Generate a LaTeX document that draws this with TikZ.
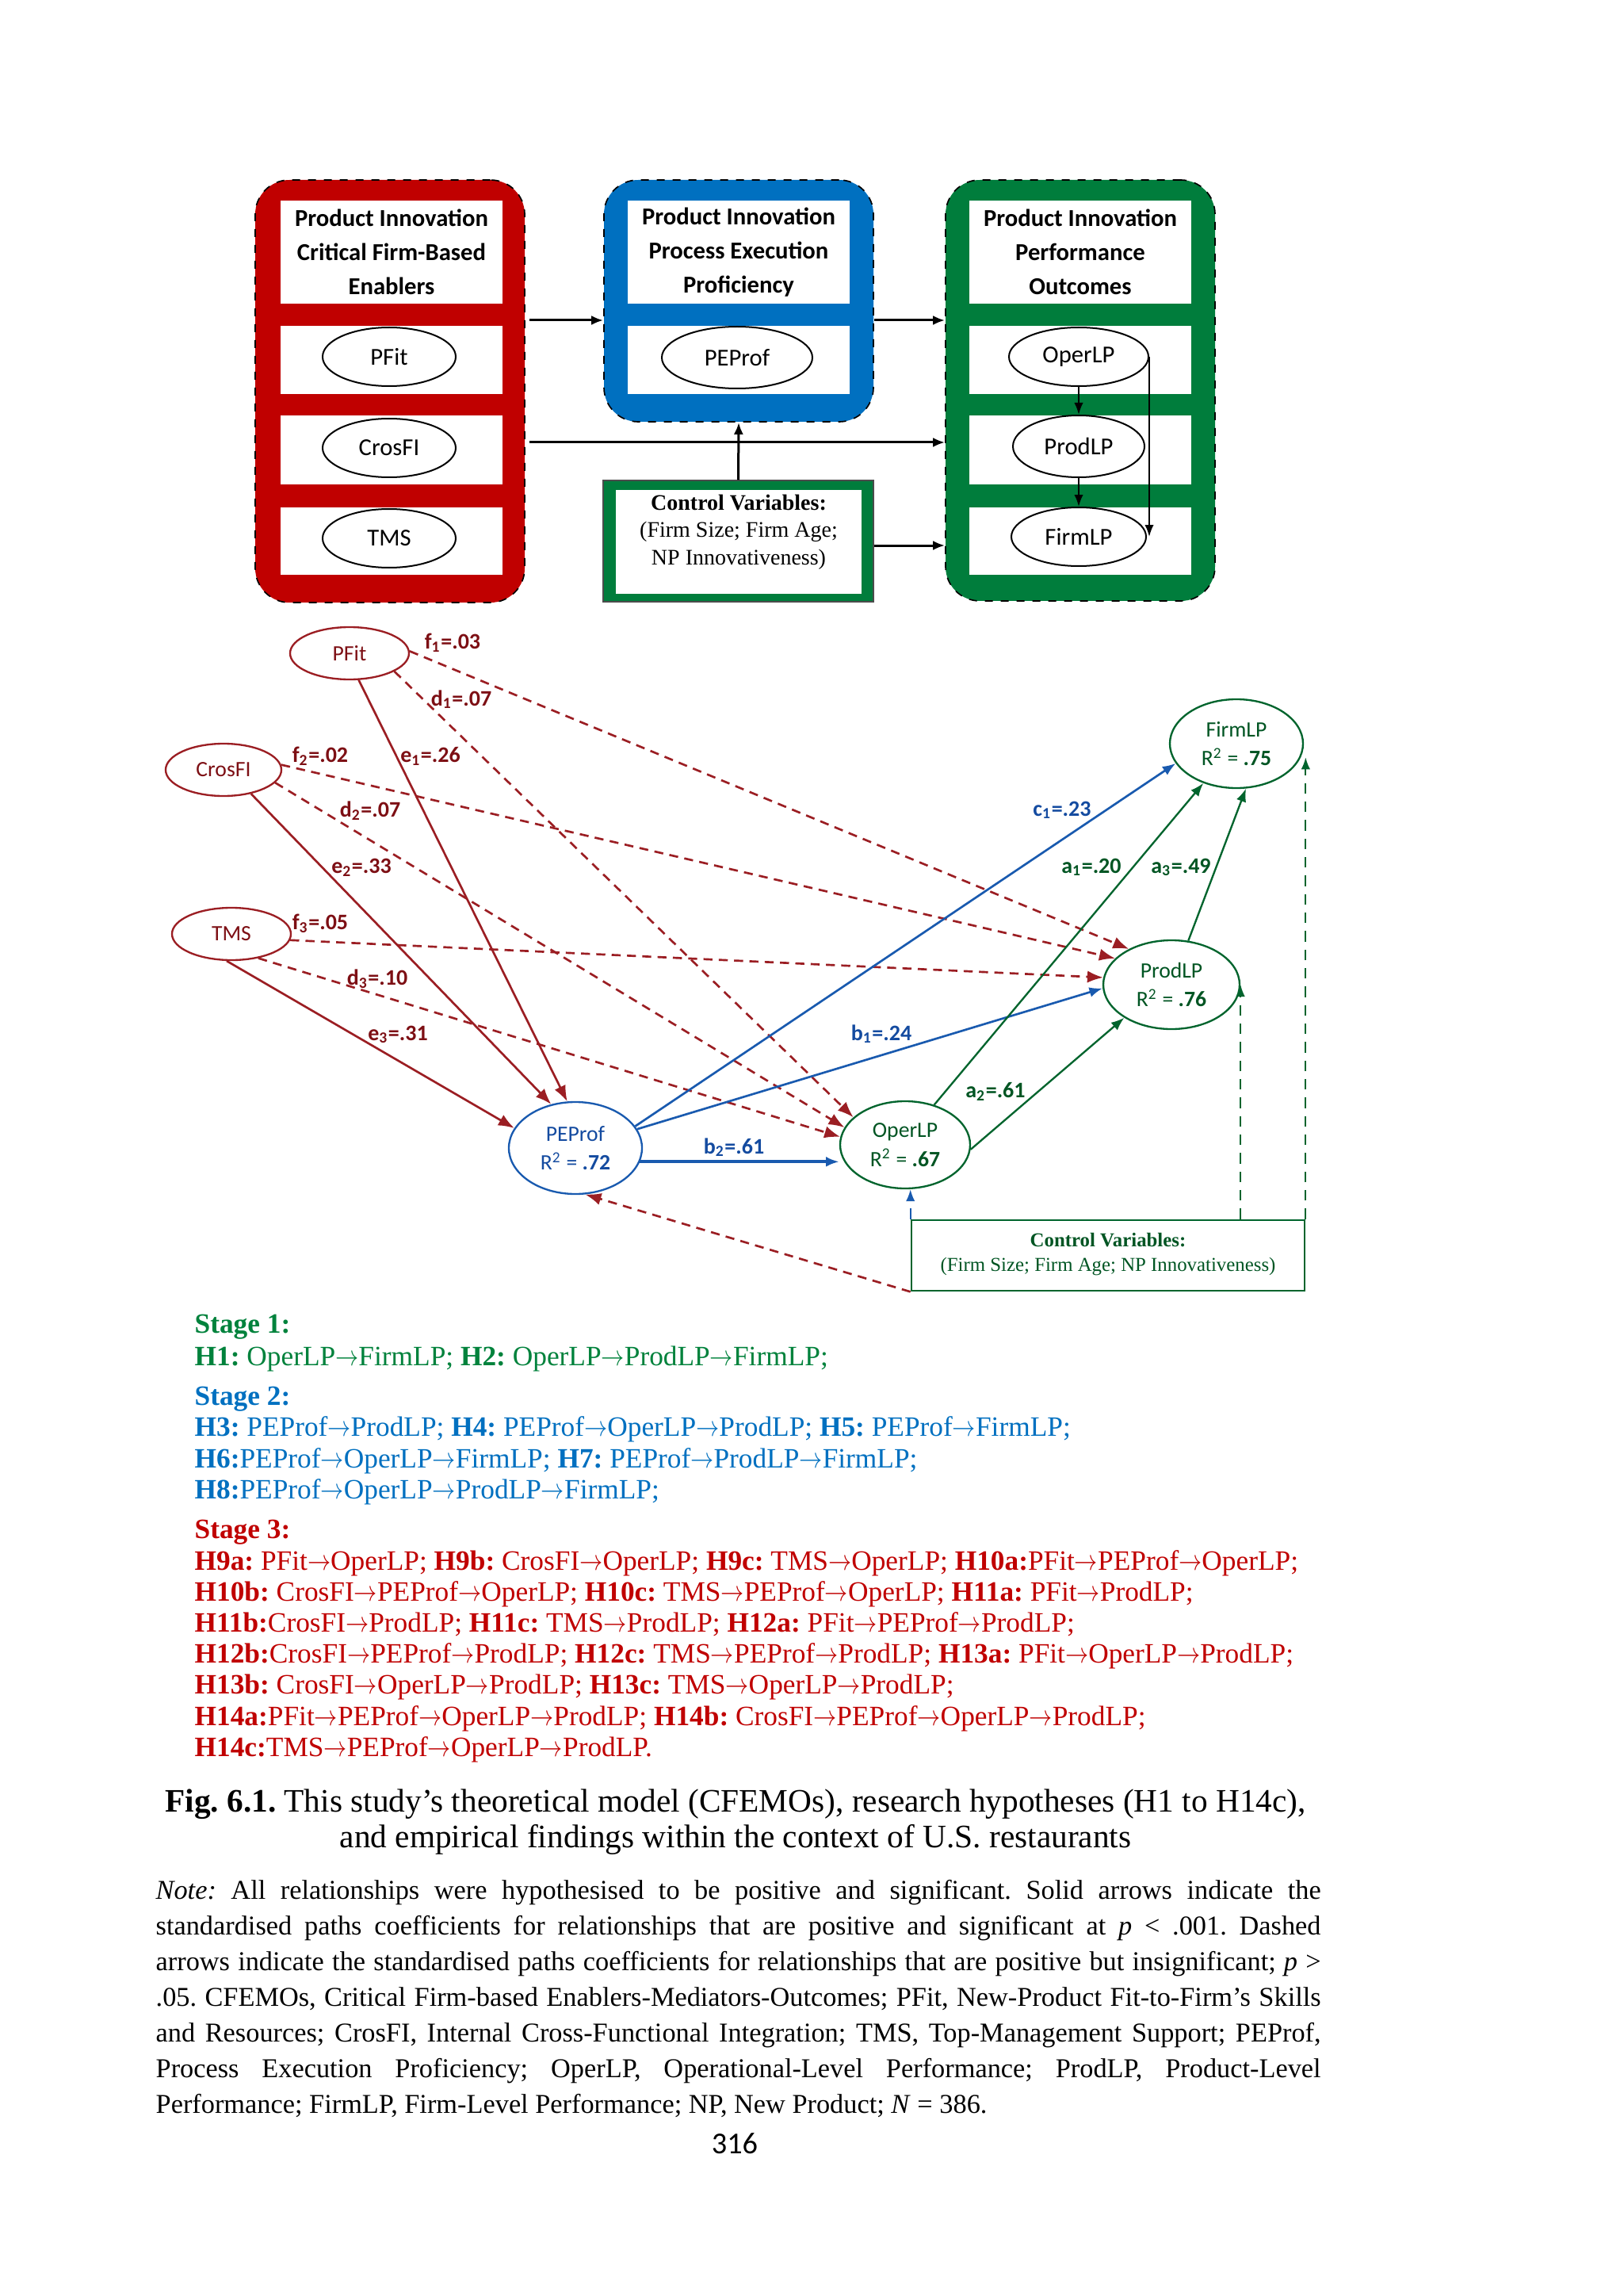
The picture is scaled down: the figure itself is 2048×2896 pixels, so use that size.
\documentclass[tikz,border=0pt]{standalone}
\usepackage{fontspec}
\usepackage{graphicx}
\setmainfont{Liberation Serif}
\newfontfamily\carl{Carlito}
\usetikzlibrary{arrows.meta,shapes.geometric,calc}
\newcommand{\myarr}{\scalebox{0.8}[1]{$\rightarrow$}}
\definecolor{boxred}{RGB}{192,0,0}
\definecolor{boxblue}{RGB}{0,112,192}
\definecolor{boxgreen}{RGB}{0,125,60}
\definecolor{lred}{RGB}{155,30,35}
\definecolor{tred}{RGB}{125,15,20}
\definecolor{lblue}{RGB}{25,90,175}
\definecolor{tblue}{RGB}{20,75,160}
\definecolor{lgreen}{RGB}{0,100,45}
\definecolor{tgreen}{RGB}{0,85,35}
\definecolor{hgreen}{RGB}{0,130,60}
\definecolor{hblue}{RGB}{0,112,192}
\definecolor{hred}{RGB}{192,0,0}
\begin{document}
\frenchspacing
\begin{tikzpicture}[x=0.3pt,y=-0.3pt,
  cbox/.style={rectangle, rounded corners=13pt, draw=black, dashed, line width=0.5pt, inner sep=0pt, minimum width=102pt},
  wbox/.style={rectangle, fill=white, inner sep=0pt, minimum width=84pt},
  titletxt/.style={font=\carl\bfseries\fontsize{9.2}{12.9}\selectfont, align=center, inner sep=0pt},
  topell/.style={ellipse, draw=black, line width=0.6pt, fill=white, inner sep=0pt, font=\carl\fontsize{9.2}{10}\selectfont},
  toparrow/.style={line width=0.9pt, -{Latex[length=4.5pt,width=3.6pt]}},
  inarrow/.style={line width=0.6pt, -{Latex[length=4.5pt,width=3.4pt]}},
  lell/.style={ellipse, line width=0.7pt, inner sep=0pt, align=center, font=\carl\fontsize{8.3}{11}\selectfont},
  rsol/.style={draw=lred, line width=0.8pt, -{Latex[length=6pt,width=4.6pt]}, lred},
  rdsh/.style={rsol, dash pattern=on 3.4pt off 2.4pt},
  bsol/.style={draw=lblue, line width=0.8pt, -{Latex[length=5pt,width=3.8pt]}, lblue},
  gsol/.style={draw=lgreen, line width=0.7pt, -{Latex[length=5pt,width=3.8pt]}, lgreen},
  gdsh/.style={draw=lgreen, line width=0.6pt, dash pattern=on 4pt off 3pt, -{Latex[length=4.5pt,width=3.4pt]}, lgreen},
  bdsh/.style={draw=lblue, line width=0.6pt, dash pattern=on 4pt off 3pt, -{Latex[length=4.5pt,width=3.4pt]}, lblue},
  lbl/.style={font=\carl\bfseries\fontsize{8.4}{9}\selectfont, inner sep=0pt},
  hyp/.style={anchor=base west, inner sep=0pt, font=\fontsize{10.6}{12}\selectfont},
  note/.style={anchor=base west, inner sep=0pt, font=\fontsize{10.3}{12}\selectfont},
]
\fill[white] (0,0) rectangle (2048,2896);
\useasboundingbox (0,0) rectangle (2048,2896);

% ---------------- top framework ----------------
\node[cbox, fill=boxred, minimum height=159.9pt] (redbox) at (492,493.5) {};
\node[cbox, fill=boxblue, minimum height=91.5pt] (bluebox) at (932,379.5) {};
\node[cbox, fill=boxgreen, minimum height=159.3pt] (greenbox) at (1363,492.5) {};

% white panels
\foreach \cx/\nm in {494/r,932/b,1363/g}{
  \node[wbox, minimum height=39pt] (\nm title) at (\cx,318) {};
  \node[wbox, minimum height=25.8pt] (\nm rowA) at (\cx,454) {};
}
\foreach \cx/\nm in {494/r,1363/g}{
  \node[wbox, minimum height=26.1pt] (\nm rowB) at (\cx,567.5) {};
  \node[wbox, minimum height=25.5pt] (\nm rowC) at (\cx,682.5) {};
}

\node[titletxt] (rtitletext) at (494,318) {Product Innovation\\Critical Firm-Based\\Enablers};
\node[titletxt] (btitletext) at (932,318) {Product Innovation\\Process Execution\\Proficiency};
\node[titletxt] (gtitletext) at (1363,318) {Product Innovation\\Performance\\Outcomes};

\node[topell, minimum width=50.4pt, minimum height=22.2pt] (PFitT) at (491,450) {PFit};
\node[topell, minimum width=50.4pt, minimum height=22.2pt] (CrosFIT) at (491,565) {CrosFI};
\node[topell, minimum width=50.4pt, minimum height=22.2pt] (TMST) at (491,679) {TMS};
\node[topell, minimum width=57pt, minimum height=23.4pt] (PEProfT) at (930,451) {PEProf};
\node[topell, minimum width=52.8pt, minimum height=22.2pt] (OperLPT) at (1361,450) {OperLP};
\node[topell, minimum width=49.8pt, minimum height=23.4pt] (ProdLPT) at (1361,563) {ProdLP};
\node[topell, minimum width=51pt, minimum height=22.2pt] (FirmLPT) at (1361,677) {FirmLP};

% control box (top)
\node[rectangle, fill=boxgreen, draw=black!70, line width=0.4pt, minimum width=102.3pt, minimum height=45.9pt, inner sep=0pt] (ctrlT) at (931.5,682.5) {};
\node[rectangle, fill=white, minimum width=93pt, minimum height=39.3pt, inner sep=0pt] (ctrlTin) at (932,683.5) {};
\node[align=center, inner sep=0pt, font=\fontsize{8.4}{10.3}\selectfont] (ctrlTtext) at (932,671) {\textbf{Control Variables:}\\(Firm Size; Firm Age;\\NP Innovativeness)};

\coordinate (rowone) at (0,404);
\coordinate (rowtwo) at (0,558);
\coordinate (rowthree) at (0,688);
\draw[toparrow] ([xshift=1.5pt]redbox.east |- rowone) -- (bluebox.west |- rowone);
\draw[toparrow] (bluebox.east |- rowone) -- (greenbox.west |- rowone);
\draw[toparrow] ([xshift=1.5pt]redbox.east |- rowtwo) -- (greenbox.west |- rowtwo);
\draw[toparrow] (ctrlT.east |- rowthree) -- (greenbox.west |- rowthree);
\draw[toparrow] (ctrlT.north) -- (bluebox.south);

\draw[inarrow] (OperLPT.south) -- (ProdLPT.north);
\draw[inarrow] (ProdLPT.south) -- (FirmLPT.north);
\draw[inarrow] (OperLPT.east) -- (OperLPT.east |- FirmLPT.east);

% ---------------- structural model ----------------
\node[lell, draw=lred, text=tred, minimum width=45pt, minimum height=19.8pt] (PFit) at (441,824) {PFit};
\node[lell, draw=lred, text=tred, minimum width=43.8pt, minimum height=19.8pt] (CrosFI) at (282,971) {CrosFI};
\node[lell, draw=lred, text=tred, minimum width=45pt, minimum height=19.8pt] (TMS) at (292,1178) {TMS};
\node[lell, draw=lblue, text=tblue, minimum width=50.4pt, minimum height=34.8pt] (PEProf) at (726,1448) {PEProf\\R\textsuperscript{2} = \textbf{.72}};
\node[lell, draw=lgreen, text=tgreen, minimum width=49.2pt, minimum height=33pt] (OperLP) at (1142,1444) {OperLP\\R\textsuperscript{2} = \textbf{.67}};
\node[lell, draw=lgreen, text=tgreen, minimum width=51.6pt, minimum height=33.6pt] (ProdLP) at (1478,1242) {ProdLP\\R\textsuperscript{2} = \textbf{.76}};
\node[lell, draw=lgreen, text=tgreen, minimum width=50.4pt, minimum height=33.6pt] (FirmLP) at (1560,938) {FirmLP\\R\textsuperscript{2} = \textbf{.75}};

\node[rectangle, draw=lgreen, line width=0.8pt, minimum width=148.8pt, minimum height=26.7pt, inner sep=0pt] (Ctrl) at (1398,1583.5) {};
\node[align=center, inner sep=0pt, text=tgreen, font=\fontsize{7.45}{9.3}\selectfont] (Ctrltext) at (1398,1582) {\textbf{Control Variables:}\\(Firm Size; Firm Age; NP Innovativeness)};

% red paths
\draw[rsol] (PFit.-71) -- (PEProf.100);
\draw[rsol] (CrosFI.-41) -- (PEProf.119);
\draw[rsol] (TMS.-100) -- (PEProf.162);
\draw[rdsh] (PFit.-22) -- (OperLP.152);
\draw[rdsh] (CrosFI.-14) -- (OperLP.164);
\draw[rdsh] (TMS.-42) -- (OperLP.173);
\draw[rdsh] (PFit.2) -- (ProdLP.140);
\draw[rdsh] (CrosFI.5) -- (ProdLP.155);
\draw[rdsh] (TMS.-6) -- (ProdLP.174);
% blue paths
\draw[bsol, line width=1.3pt] (PEProf.-12) -- (PEProf.-12 -| OperLP.west);
\draw[bsol] (PEProf.17) -- (ProdLP.-177);
\draw[bsol] (PEProf.20) -- (FirmLP.-162);
% green paths
\draw[gsol] (OperLP.54) -- (FirmLP.-130);
\draw[gsol] (OperLP.-4) -- (ProdLP.-145);
\draw[gsol] (ProdLP.69) -- (FirmLP.-78);
% control paths
\draw[bdsh] (Ctrl.north west) -- (Ctrl.north west |- OperLP.south);
\draw[gdsh] (Ctrl.north -| ProdLP.east) -- (ProdLP.east);
\draw[gdsh] (Ctrl.north east) -- (Ctrl.north east |- FirmLP.-12);
\draw[rdsh] (Ctrl.south west) -- (PEProf.-78);

% labels
\node[lbl, text=tred] (lf1) at (571,811) {f\textsubscript{1}=.03};
\node[lbl, text=tred] (ld1) at (582,882) {d\textsubscript{1}=.07};
\node[lbl, text=tred] (le1) at (543,954) {e\textsubscript{1}=.26};
\node[lbl, text=tred] (lf2) at (404,954) {f\textsubscript{2}=.02};
\node[lbl, text=tred] (ld2) at (467,1023) {d\textsubscript{2}=.07};
\node[lbl, text=tred] (le2) at (456,1094) {e\textsubscript{2}=.33};
\node[lbl, text=tred] (lf3) at (404,1165) {f\textsubscript{3}=.05};
\node[lbl, text=tred] (ld3) at (476,1235) {d\textsubscript{3}=.10};
\node[lbl, text=tred] (le3) at (502,1305) {e\textsubscript{3}=.31};
\node[lbl, text=tblue] (lc1) at (1340,1022) {c\textsubscript{1}=.23};
\node[lbl, text=tgreen] (la1) at (1377,1094) {a\textsubscript{1}=.20};
\node[lbl, text=tgreen] (la3) at (1490,1094) {a\textsubscript{3}=.49};
\node[lbl, text=tblue] (lb1) at (1112,1304) {b\textsubscript{1}=.24};
\node[lbl, text=tgreen] (la2) at (1256,1377) {a\textsubscript{2}=.61};
\node[lbl, text=tblue] (lb2) at (926,1447) {b\textsubscript{2}=.61};

% ---------------- hypotheses ----------------
\begin{scope}[every node/.style={hyp}]
\node[text=hgreen] (s1) at (245,1681) {\textbf{Stage 1:}};
\node[text=hgreen] (h1) at (245,1722) {\textbf{H1:} OperLP\myarr FirmLP; \textbf{H2:} OperLP\myarr ProdLP\myarr FirmLP;};
\node[text=hblue] (s2) at (245,1772) {\textbf{Stage 2:}};
\node[text=hblue] (h3) at (245,1811) {\textbf{H3:} PEProf\myarr ProdLP; \textbf{H4:} PEProf\myarr OperLP\myarr ProdLP; \textbf{H5:} PEProf\myarr FirmLP;};
\node[text=hblue] (h6) at (245,1851) {\textbf{H6:}PEProf\myarr OperLP\myarr FirmLP; \textbf{H7:} PEProf\myarr ProdLP\myarr FirmLP;};
\node[text=hblue] (h8) at (245,1890) {\textbf{H8:}PEProf\myarr OperLP\myarr ProdLP\myarr FirmLP;};
\node[text=hred] (s3) at (245,1940) {\textbf{Stage 3:}};
\node[text=hred] (h9) at (245,1980) {\textbf{H9a:} PFit\myarr OperLP; \textbf{H9b:} CrosFI\myarr OperLP; \textbf{H9c:} TMS\myarr OperLP; \textbf{H10a:}PFit\myarr PEProf\myarr OperLP;};
\node[text=hred] (h10) at (245,2019) {\textbf{H10b:} CrosFI\myarr PEProf\myarr OperLP; \textbf{H10c:} TMS\myarr PEProf\myarr OperLP; \textbf{H11a:} PFit\myarr ProdLP;};
\node[text=hred] (h11) at (245,2058) {\textbf{H11b:}CrosFI\myarr ProdLP; \textbf{H11c:} TMS\myarr ProdLP; \textbf{H12a:} PFit\myarr PEProf\myarr ProdLP;};
\node[text=hred] (h12) at (245,2097) {\textbf{H12b:}CrosFI\myarr PEProf\myarr ProdLP; \textbf{H12c:} TMS\myarr PEProf\myarr ProdLP; \textbf{H13a:} PFit\myarr OperLP\myarr ProdLP;};
\node[text=hred] (h13) at (245,2136) {\textbf{H13b:} CrosFI\myarr OperLP\myarr ProdLP; \textbf{H13c:} TMS\myarr OperLP\myarr ProdLP;};
\node[text=hred] (h14) at (245,2176) {\textbf{H14a:}PFit\myarr PEProf\myarr OperLP\myarr ProdLP; \textbf{H14b:} CrosFI\myarr PEProf\myarr OperLP\myarr ProdLP;};
\node[text=hred] (h14c) at (245,2215) {\textbf{H14c:}TMS\myarr PEProf\myarr OperLP\myarr ProdLP.};
\end{scope}

% ---------------- caption ----------------
\node[anchor=base, inner sep=0pt, font=\fontsize{12.4}{14}\selectfont] (cap1) at (928,2285) {\textbf{Fig. 6.1.} This study’s theoretical model (CFEMOs), research hypotheses (H1 to H14c),};
\node[anchor=base, inner sep=0pt, font=\fontsize{12.4}{14}\selectfont] (cap2) at (928,2330) {and empirical findings within the context of U.S. restaurants};

\begin{scope}[every node/.style={note}]
\node (n1) at (196,2395) {\makebox[441pt][s]{\textit{Note:} All relationships were hypothesised to be positive and significant. Solid arrows indicate the}};
\node (n2) at (196,2440) {\makebox[441pt][s]{standardised paths coefficients for relationships that are positive and significant at \textit{p} < .001. Dashed}};
\node (n3) at (196,2485) {\makebox[441pt][s]{arrows indicate the standardised paths coefficients for relationships that are positive but insignificant; \textit{p} >}};
\node (n4) at (196,2530) {\makebox[441pt][s]{.05. CFEMOs, Critical Firm-based Enablers-Mediators-Outcomes; PFit, New-Product Fit-to-Firm’s Skills}};
\node (n5) at (196,2575) {\makebox[441pt][s]{and Resources; CrosFI, Internal Cross-Functional Integration; TMS, Top-Management Support; PEProf,}};
\node (n6) at (196,2620) {\makebox[441pt][s]{Process Execution Proficiency; OperLP, Operational-Level Performance; ProdLP, Product-Level}};
\node (n7) at (196,2665) {Performance; FirmLP, Firm-Level Performance; NP, New Product; \textit{N} = 386.};
\end{scope}

\node[anchor=base, inner sep=0pt, font=\carl\fontsize{11.5}{12}\selectfont] (pagenum) at (927,2716) {316};
\end{tikzpicture}
\end{document}
